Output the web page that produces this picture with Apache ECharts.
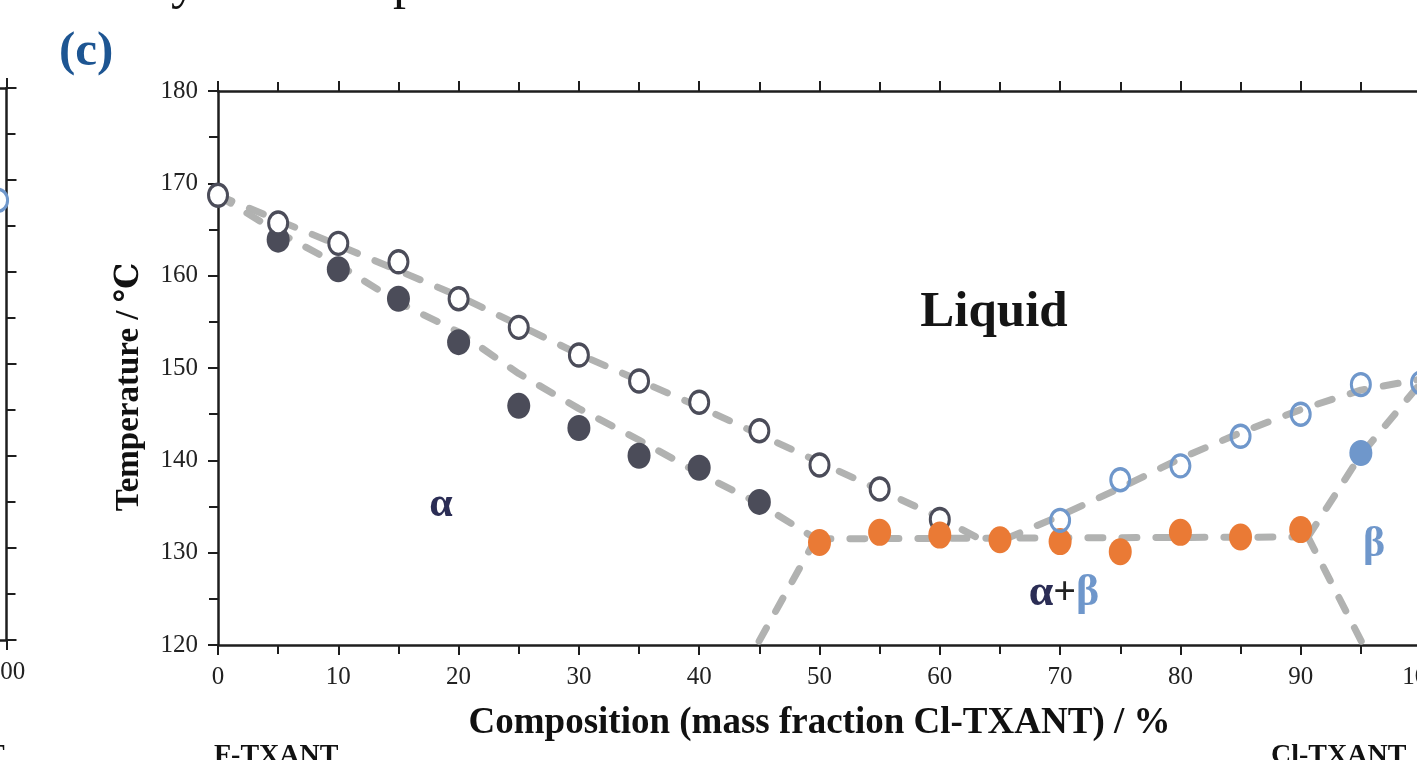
<!DOCTYPE html>
<html>
<head>
<meta charset="utf-8">
<script src="https://cdn.jsdelivr.net/npm/echarts@6/dist/echarts.min.js"></script>
<style>
html,body{margin:0;padding:0;background:#fff;}
#c{width:1417px;height:760px;}
</style>
</head>
<body>
<div id="c"></div>
<script>
// ---- data ----
const xTicks = [0,10,20,30,40,50,60,70,80,90,100];
const yTicks = [120,130,140,150,160,170,180];

// alpha liquidus (open dark circles)
const liqAlphaX = [0,5,10,15,20,25,30,35,40,45,50,55,60];
const liqAlphaT = [168.7,165.7,163.5,161.5,157.5,154.4,151.4,148.6,146.3,143.2,139.5,136.9,133.6];
// alpha solidus (filled dark circles)
const solAlphaX = [5,10,15,20,25,30,35,40,45];
const solAlphaT = [163.9,160.7,157.5,152.8,145.9,143.5,140.5,139.2,135.5];
// eutectic (orange)
const eutX = [50,55,60,65,70,75,80,85,90];
const eutT = [131.1,132.2,131.9,131.4,131.2,130.1,132.2,131.7,132.5];
// beta liquidus (open blue circles)
const liqBetaX = [70,75,80,85,90,95,100];
const liqBetaT = [133.5,137.9,139.4,142.6,145.0,148.2,148.4];
// beta solidus (filled blue)
const solBetaX = [95];
const solBetaT = [140.8];
// left (cut-off) panel point
const leftPanelX = [99.3];
const leftPanelT = [167.8];

// guide (dashed) curves
const curveLiqAlpha = [[0,168.7],[10,163.3],[20,157.8],[30,151.5],[40,145.8],[50,139.8],[60,133.8],[63.3,131.5]];
const curveSolAlpha = [[0,168.7],[5,164.7],[10,161.2],[15,157.1],[20,153.9],[25,149.4],[30,145.6],[35,142.2],[40,138.6],[45,135.3],[49.7,131.5]];
const curveEutectic = [[49.7,131.5],[90.6,131.7]];
const curveSolvAlpha = [[49.7,131.5],[44.8,120]];
const curveSolvBeta = [[90.6,131.7],[95.2,120]];
const curveSolBeta = [[90.6,131.7],[95,140.6],[100,148.4]];
const curveLiqBeta = [[65.5,131.5],[70,134.0],[75,137.0],[80,140.2],[85,143.0],[90,145.5],[95,147.6],[100,148.8]];

const zip = (xs, ys) => xs.map((x,i)=>[x, ys[i]]);

const SERIF = '"Liberation Serif","DejaVu Serif",serif';
const AX = '#1e1e1e';
const DASH = '#b1b2b1';
const DARK = '#4b4c59';
const ORANGE = '#ea7a35';
const BLUE = '#6f97cb';

function dashed(data){
  return {type:'line', xAxisIndex:0, yAxisIndex:0, data, symbol:'none', silent:true, z:2,
    lineStyle:{color:DASH, width:7, type:[15,19], cap:'round'}};
}

const axisCommon = {
  axisLine:{show:true, onZero:false, lineStyle:{color:AX, width:2.5}},
  axisTick:{show:true, length:10, lineStyle:{color:AX, width:2}},
  minorTick:{show:true, splitNumber:2, length:9, lineStyle:{color:AX, width:2}},
  splitLine:{show:false}
};

const chart = echarts.init(document.getElementById('c'), null, {renderer:'canvas'});
chart.setOption({
  backgroundColor:'#fff',
  animation:false,
  grid:[
    {left:218, top:91, width:1203, height:554, containLabel:false, outerBoundsMode:'none'},
    {left:-1196.5, top:88, width:1203, height:552, containLabel:false, outerBoundsMode:'none'}
  ],
  xAxis:[
    Object.assign({gridIndex:0, type:'value', min:xTicks[0], max:xTicks[xTicks.length-1], interval:10, position:'bottom',
      name:'Composition (mass fraction Cl-TXANT) / %', nameLocation:'middle', nameGap:60,
      nameTextStyle:{fontFamily:SERIF, fontWeight:'bold', fontSize:37, color:'#111'},
      axisLabel:{fontFamily:SERIF, fontSize:25, color:'#222', margin:20}}, axisCommon),
    Object.assign({gridIndex:0, type:'value', min:0, max:100, interval:10, position:'top',
      axisLabel:{show:false}}, axisCommon),
    Object.assign({gridIndex:1, type:'value', min:0, max:100, interval:10, position:'bottom',
      axisLabel:{fontFamily:SERIF, fontSize:25, color:'#222', margin:20}}, axisCommon),
    Object.assign({gridIndex:1, type:'value', min:0, max:100, interval:10, position:'top',
      axisLabel:{show:false}}, axisCommon)
  ],
  yAxis:[
    Object.assign({gridIndex:0, type:'value', min:yTicks[0], max:yTicks[yTicks.length-1], interval:10, position:'left',
      name:'Temperature / ℃', nameLocation:'middle', nameGap:72, nameRotate:90,
      nameTextStyle:{fontFamily:SERIF, fontWeight:'bold', fontSize:33, color:'#111', padding:[0,38,0,0]},
      axisLabel:{fontFamily:SERIF, fontSize:25, color:'#222', margin:20}}, axisCommon),
    Object.assign({gridIndex:1, type:'value', min:120, max:180, interval:10, position:'right',
      axisLabel:{show:false}}, axisCommon)
  ],
  series:[
    dashed(curveLiqAlpha),
    dashed(curveSolAlpha),
    dashed(curveEutectic),
    dashed(curveSolvAlpha),
    dashed(curveSolvBeta),
    dashed(curveSolBeta),
    dashed(curveLiqBeta),
    {type:'scatter', data:zip(solAlphaX, solAlphaT), symbol:'circle', symbolSize:[23,26], z:3,
      itemStyle:{color:DARK, opacity:1}},
    {type:'scatter', data:zip(liqAlphaX, liqAlphaT), symbol:'circle', symbolSize:[19,22], z:3,
      itemStyle:{color:'#fff', borderColor:DARK, borderWidth:3.2, opacity:1}},
    {type:'scatter', data:zip(eutX, eutT), symbol:'circle', symbolSize:[23,27], z:4,
      itemStyle:{color:ORANGE, opacity:1}},
    {type:'scatter', data:zip(solBetaX, solBetaT), symbol:'circle', symbolSize:[23,26], z:4,
      itemStyle:{color:BLUE, opacity:1}},
    {type:'scatter', data:zip(liqBetaX, liqBetaT), symbol:'circle', symbolSize:[19,22], z:5,
      itemStyle:{color:'rgba(255,255,255,0)', borderColor:BLUE, borderWidth:3.2, opacity:1}},
    {type:'scatter', xAxisIndex:2, yAxisIndex:1, data:zip(leftPanelX, leftPanelT), symbol:'circle', symbolSize:[19,22], z:5,
      itemStyle:{color:'#fff', borderColor:BLUE, borderWidth:3.2, opacity:1}}
  ],
  graphic:[
    {type:'text', left:59, top:28, style:{text:'(c)', font:'bold 49px '+SERIF, fill:'#1d5592'}},
    {type:'text', x:994, y:313, style:{text:'Liquid', font:'bold 51px '+SERIF, fill:'#151515', align:'center', verticalAlign:'middle'}},
    {type:'text', x:441, y:505, style:{text:'α', font:'bold 42px '+SERIF, fill:'#2b2d55', align:'center', verticalAlign:'middle'}},
    {type:'text', x:1064, y:594, style:{text:'{a|α}{p|+}{b|β}', align:'center', verticalAlign:'middle',
      rich:{a:{font:'bold 44px '+SERIF, fill:'#2b2d55'}, p:{font:'bold 40px '+SERIF, fill:'#222'}, b:{font:'bold 44px '+SERIF, fill:BLUE}}}},
    {type:'text', x:1374, y:545, style:{text:'β', font:'bold 42px '+SERIF, fill:BLUE, align:'center', verticalAlign:'middle'}},
    {type:'text', left:214, top:742, style:{text:'F-TXANT', font:'bold 28px '+SERIF, fill:'#111'}},
    {type:'text', left:1271, top:742, style:{text:'Cl-TXANT', font:'bold 28px '+SERIF, fill:'#111'}},
    {type:'text', x:-14, y:742, style:{text:'T', font:'bold 28px '+SERIF, fill:'#111', align:'left', verticalAlign:'top'}},
    {type:'text', x:184, y:-42, style:{text:'y', font:'52px '+SERIF, fill:'#111', align:'center', verticalAlign:'top'}},
    {type:'text', x:406, y:-42, style:{text:'p', font:'52px '+SERIF, fill:'#111', align:'center', verticalAlign:'top'}}
  ]
});
</script>
</body>
</html>
